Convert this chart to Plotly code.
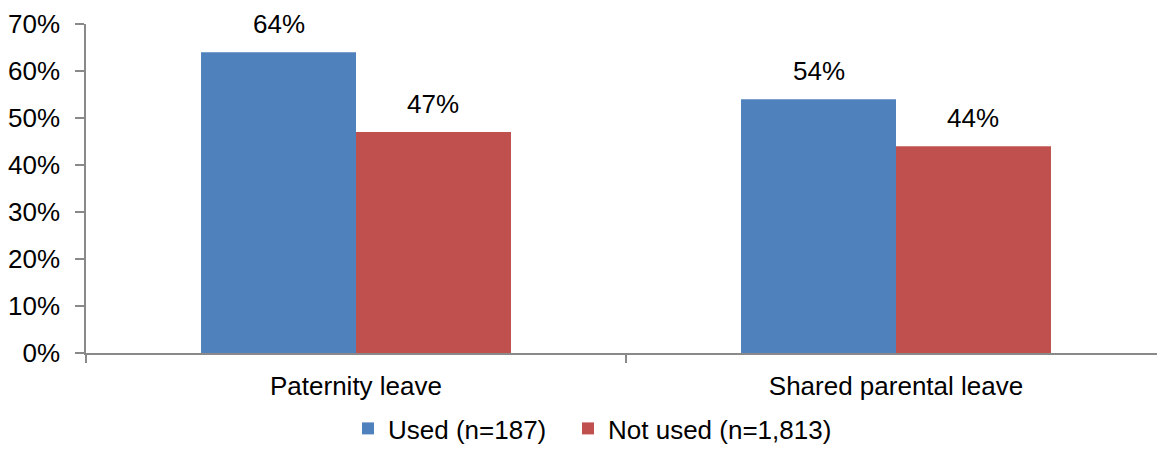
import plotly.graph_objects as go

categories = ["Paternity leave", "Shared parental leave"]
used = [64, 54]
not_used = [47, 44]
series_names = ["Used (n=187)", "Not used (n=1,813)"]
y_ticks = [0, 10, 20, 30, 40, 50, 60, 70]
y_tick_labels = ["0%", "10%", "20%", "30%", "40%", "50%", "60%", "70%"]

BLUE = "#4F81BD"
RED = "#C0504D"
AXIS = "#898989"
FONT = "Liberation Sans, Arial, sans-serif"
FS = 26

W, H = 1157, 452
ML, MT, MB = 86, 23.5, 99
band_px = 540.0
x_end = -0.5 + (W - ML) / band_px

fig = go.Figure()
fig.add_trace(go.Bar(x=categories, y=used, name=series_names[0],
                     marker=dict(color=BLUE, line=dict(width=0)),
                     legend="legend"))
fig.add_trace(go.Bar(x=categories, y=not_used, name=series_names[1],
                     marker=dict(color=RED, line=dict(width=0)),
                     legend="legend2"))

# value labels above each bar
bar_w = (1 - 0.426) / 2
for i, cat in enumerate(categories):
    for vals, off in ((used, -bar_w / 2), (not_used, bar_w / 2)):
        fig.add_annotation(x=i + off, y=vals[i], xref="x", yref="y",
                           text=f"{vals[i]}%", showarrow=False,
                           yanchor="bottom", yshift=11,
                           font=dict(family=FONT, size=FS, color="#000000"))

legend_common = dict(orientation="h", xref="container", yref="container",
                     xanchor="left", y=(-4 / H), yanchor="bottom",
                     font=dict(family=FONT, size=FS, color="#000000"),
                     itemwidth=30, bgcolor="rgba(0,0,0,0)")

fig.update_layout(
    width=W, height=H,
    margin=dict(l=ML, r=0, t=MT, b=MB, pad=0, autoexpand=False),
    paper_bgcolor="white", plot_bgcolor="white",
    barmode="group", bargap=0.426, bargroupgap=0,
    font=dict(family=FONT, size=FS, color="#000000"),
    showlegend=True,
    legend=dict(x=(348 / W), **legend_common),
    legend2=dict(x=(568 / W), **legend_common),
)
fig.update_xaxes(type="category", range=[-0.5, x_end], tickson="boundaries",
                 ticks="outside", ticklen=8, tickcolor=AXIS, tickwidth=1.5,
                 showline=True, linecolor=AXIS, linewidth=1.5,
                 showgrid=False, zeroline=False, automargin=False,
                 ticklabelstandoff=9,
                 tickfont=dict(family=FONT, size=FS, color="#000000"))
fig.update_yaxes(range=[0, 70], tickvals=y_ticks, ticktext=y_tick_labels,
                 ticks="outside", ticklen=9, tickcolor=AXIS, tickwidth=1.5,
                 showline=True, linecolor=AXIS, linewidth=1.5,
                 showgrid=False, zeroline=False, ticklabelstandoff=10,
                 automargin=False,
                 tickfont=dict(family=FONT, size=FS, color="#000000"))

fig.write_html("out.html")
